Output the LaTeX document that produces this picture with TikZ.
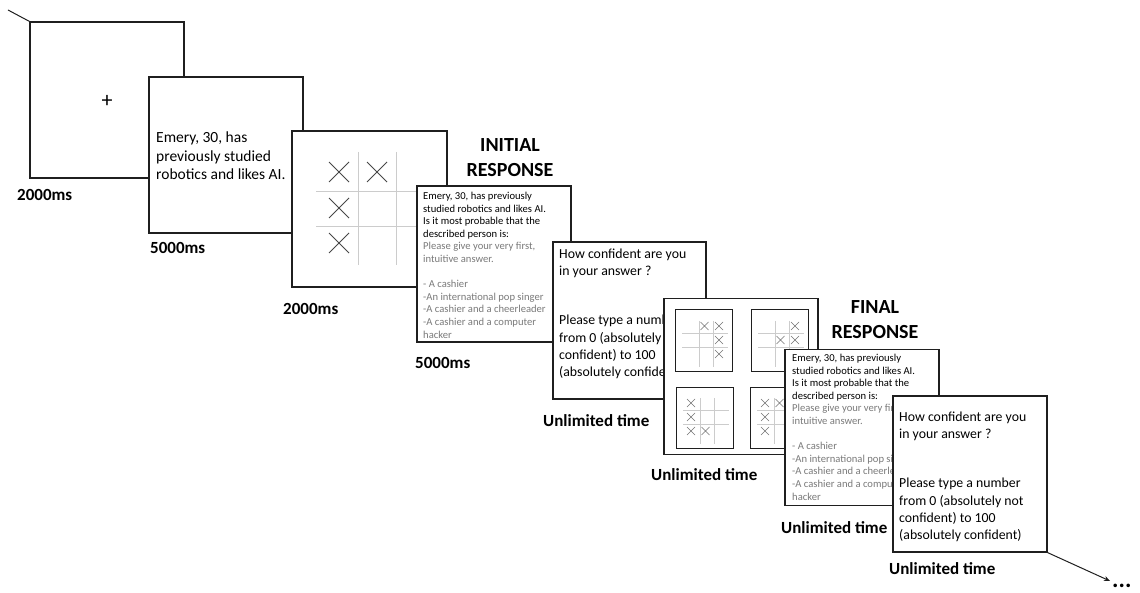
\documentclass[tikz,border=0pt]{standalone}
\usepackage{fontspec}
\setmainfont{Carlito}
\usetikzlibrary{arrows.meta}
\newcommand{\framecolor}{black!88}
\newcommand{\gridcolor}{black!20}
\newcommand{\crosscolor}{black!72}
\newcommand{\hintcolor}{black!52}
\newcommand{\framewidth}{1.2pt}
\newcommand{\xmark}[3]{\draw[cross] (#1-#3,#2-#3) -- (#1+#3,#2+#3) (#1-#3,#2+#3) -- (#1+#3,#2-#3);}
\newcommand{\minigrid}[2]{\draw[minibox] (#1,#2) rectangle ++(57,61);
\draw[gridline] (#1+24,#2+11) -- ++(0,46) (#1+38,#2+11) -- ++(0,46) (#1+7,#2+23) -- ++(46,0) (#1+7,#2+37) -- ++(46,0);}
\newcommand{\prompttext}{Emery, 30, has previously\\studied robotics and likes AI.\\Is it most probable that the\\described person is:\\
\textcolor{\hintcolor}{Please give your very first,}\\\textcolor{\hintcolor}{intuitive answer.}\\[12.6pt]
\textcolor{\hintcolor}{- A cashier}\\\textcolor{\hintcolor}{-An international pop singer}\\
\textcolor{\hintcolor}{-A cashier and a cheerleader}\\\textcolor{\hintcolor}{-A cashier and a computer}\\\textcolor{\hintcolor}{hacker}}
\newcommand{\confidencetext}{How confident are you\\in your answer ?\\[32pt]Please type a number\\from 0 (absolutely not\\confident) to 100\\(absolutely confident)}

\begin{document}
\begin{tikzpicture}[x=1pt,y=-1pt,
  slide/.style={draw=\framecolor, fill=white, line width=\framewidth, minimum width=154pt, minimum height=156pt, inner sep=0pt},
  minibox/.style={draw=\framecolor, fill=white, line width=1pt},
  gridline/.style={draw=\gridcolor, line width=0.8pt},
  cross/.style={draw=\crosscolor, line width=0.8pt},
  vignette/.style={anchor=north west, align=left, inner sep=0pt, font=\fontsize{15.5}{18.5}\selectfont},
  prompt/.style={anchor=north west, align=left, inner sep=0pt, font=\fontsize{10.6}{12.6}\selectfont},
  rating/.style={anchor=north west, align=left, inner sep=0pt, font=\fontsize{13.8}{17.3}\selectfont},
  dur/.style={anchor=west, inner sep=0pt, font=\bfseries\fontsize{17}{20}\selectfont},
  phase/.style={align=center, inner sep=0pt, font=\bfseries\fontsize{20}{25}\selectfont},
  flow/.style={draw=\framecolor, line width=1pt}]
\useasboundingbox (0,0) rectangle (1140,593);
\coordinate (start) at (8,10);
\coordinate (end) at (1110,581);
%fixation
\node[slide] (fix) at (107,100) {};
\draw[flow] (start) -- (fix.north west);
\node[font=\fontsize{22}{22}\selectfont, inner sep=0pt] (plus) at (107,101) {+};
\node[dur] (d1) at (17,195) {2000ms};
%vignette
\node[slide] (vig) at (226,155) {};
\node[vignette] (vigtext) at (156,132) {Emery, 30, has\\previously studied\\robotics and likes AI.};
\node[dur] (d2) at (150,248) {5000ms};
%tic tac toe
\node[slide, minimum width=155pt] (ttt) at (369.5,209) {};
\draw[gridline] (358,152) -- (358,265) (396,152) -- (396,265) (316,191) -- (436,191) (316,226) -- (436,226);
\xmark{339}{172}{10}
\xmark{377}{172}{10}
\xmark{339}{208}{10}
\xmark{339}{243}{10}
\node[dur] (d3) at (283,309) {2000ms};
%initial response
\node[phase] (initial) at (510,157.5) {INITIAL\\RESPONSE};
\node[slide] (ini) at (494,264) {};
\node[prompt] (initext) at (423,192) {\prompttext};
\node[dur] (d4) at (415,363) {5000ms};
%confidence
\node[slide, minimum width=153pt, minimum height=157pt] (conf) at (629.5,320.5) {};
\node[rating] (conftext) at (559,248.5) {\confidencetext};
\node[dur] (d5) at (543,421) {Unlimited time};
%four grids
\node[slide] (four) at (741,376.5) {};
\begin{scope}[cross/.append style={draw=black!55, line width=0.6pt}]
\minigrid{675}{310}
\xmark{704.5}{326}{4}
\xmark{719}{326}{4}
\xmark{719}{340}{4}
\xmark{719}{354}{4}
\minigrid{751}{310}
\xmark{795}{326}{4}
\xmark{780.5}{340}{4}
\xmark{795}{340}{4}
\minigrid{676}{387}
\xmark{691}{403}{4}
\xmark{691}{417}{4}
\xmark{691}{431}{4}
\xmark{705.5}{431}{4}
\minigrid{750}{387}
\xmark{765}{403}{4}
\xmark{779.5}{403}{4}
\xmark{765}{417}{4}
\xmark{765}{431}{4}
\end{scope}
\node[dur] (d6) at (651,475) {Unlimited time};
%final response
\node[phase] (final) at (875,319.5) {FINAL\\RESPONSE};
\node[slide] (fin) at (862,427.5) {};
\node[prompt] (fintext) at (792,354) {\prompttext};
\node[dur] (d7) at (781,528) {Unlimited time};
%confidence again
\node[slide] (confb) at (970,474) {};
\node[rating] (confbtext) at (899,411.5) {\confidencetext};
\node[dur] (d8) at (889,569) {Unlimited time};
\draw[flow, -{Stealth[length=6pt, width=5pt]}] (confb.south east) -- (end);
\node[anchor=base west, inner sep=0pt, font=\bfseries\fontsize{24}{24}\selectfont] (more) at (1112,587) {...};
\end{tikzpicture}
\end{document}
